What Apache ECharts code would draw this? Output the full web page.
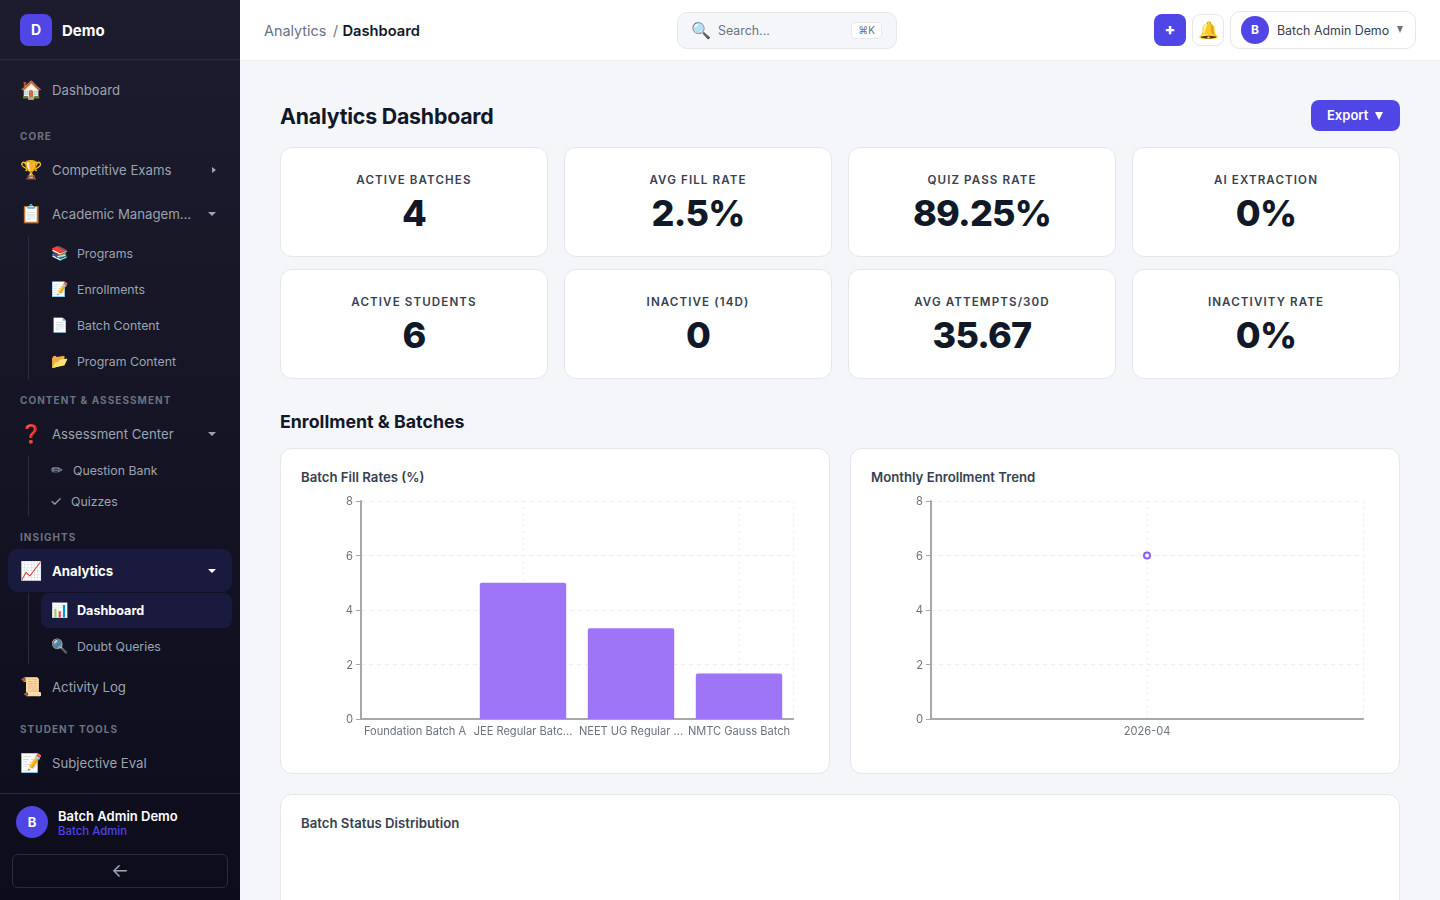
<!DOCTYPE html>
<html>
<head>
<meta charset="utf-8">
<title>Analytics Dashboard</title>
<script src="https://cdn.jsdelivr.net/npm/echarts@6/dist/echarts.min.js"></script>
<style>
* { box-sizing: border-box; }
html, body { margin: 0; height: 100%; overflow: hidden; }
body { width: 1440px; height: 900px; position: relative; background: #f5f6fa; font-family: Inter, "Noto Sans", sans-serif; color: #111827; }
.abs { position: absolute; white-space: nowrap; }
#side { position: absolute; left: 0; top: 0; width: 240px; height: 900px; background: linear-gradient(180deg, #1c1c2e 0%, #0c0c1b 100%); }
.line { position: absolute; background: #2b2b3d; }
.item { position: absolute; left: 52px; font-size: 13.2px; line-height: 18px; color: #9ca3af; white-space: nowrap; transform: translateY(-50%); }
.sub { font-size: 12.3px; left: 77px; margin-top: 1px; }
.ico { position: absolute; left: 20px; width: 22px; text-align: center; font-size: 18px; line-height: 22px; transform: translateY(-50%); }
.ico.s { left: 50px; width: 18px; font-size: 14px; }
.sec { position: absolute; left: 20px; font-size: 10px; font-weight: 700; letter-spacing: 1.05px; color: #6b7280; transform: translateY(-50%); white-space: nowrap; }
.caret { position: absolute; width: 0; height: 0; border-left: 4px solid transparent; border-right: 4px solid transparent; border-top: 4px solid #9ca3af; left: 208px; transform: translateY(-50%); }
.pill { position: absolute; background: #1a1a3e; border-radius: 10px; }
#top { position: absolute; left: 240px; top: 0; width: 1200px; height: 61px; background: #fff; border-bottom: 1px solid #eceef3; }
.card { position: absolute; background: #fff; border: 1px solid #e5e7eb; border-radius: 12px; }
.kpi { text-align: center; width: 268px; height: 110px; }
.kpi .lb { position: absolute; left: 0; right: 0; top: 25px; font-size: 11.6px; line-height: 14px; font-weight: 600; letter-spacing: 1.1px; color: #374151; }
.kpi .vl { position: absolute; left: 0; right: 0; top: 41px; font-size: 36px; line-height: 48px; font-weight: 800; letter-spacing: -0.8px; color: #111827; }
.ct { position: absolute; left: 20px; top: 20px; font-size: 13.2px; line-height: 16px; font-weight: 600; color: #374151; }
.chart { position: absolute; width: 508px; height: 270px; }
</style>
</head>
<body>
<div id="side">
  <div class="abs" style="left:20px;top:14px;width:32px;height:32px;border-radius:8px;background:#4f46e5;color:#fff;font-weight:700;font-size:14px;line-height:32px;text-align:center">D</div>
  <div class="abs" style="left:62px;top:22px;font-size:15px;line-height:18px;font-weight:700;color:#fff">Demo</div>
  <div class="line" style="left:0;top:59px;width:240px;height:1px"></div>

  <div class="ico" style="top:90px">🏠</div><div class="item" style="top:90px">Dashboard</div>
  <div class="sec" style="top:136px">CORE</div>
  <div class="ico" style="top:170px">🏆</div><div class="item" style="top:170px">Competitive Exams</div>
  <div class="abs" style="left:212px;top:167px;width:0;height:0;border-top:3.5px solid transparent;border-bottom:3.5px solid transparent;border-left:4px solid #9ca3af"></div>
  <div class="ico" style="top:214px">📋</div><div class="item" style="top:214px">Academic Managem…</div>
  <div class="caret" style="top:214px"></div>
  <div class="line" style="left:28px;top:236px;width:1px;height:144px"></div>
  <div class="ico s" style="top:253px">📚</div><div class="item sub" style="top:253px">Programs</div>
  <div class="ico s" style="top:289px">📝</div><div class="item sub" style="top:289px">Enrollments</div>
  <div class="ico s" style="top:325px">📄</div><div class="item sub" style="top:325px">Batch Content</div>
  <div class="ico s" style="top:361px">📂</div><div class="item sub" style="top:361px">Program Content</div>

  <div class="sec" style="top:400px">CONTENT &amp; ASSESSMENT</div>
  <div class="ico" style="top:434px;color:#e00">❓</div><div class="item" style="top:434px">Assessment Center</div>
  <div class="caret" style="top:434px"></div>
  <div class="line" style="left:28px;top:456px;width:1px;height:60px"></div>
  <div class="ico s" style="top:470px;left:48px;color:#9ca3af">✏</div><div class="item sub" style="top:470px;left:73px">Question Bank</div>
  <div class="ico s" style="top:501px;left:47px;color:#9ca3af">✓</div><div class="item sub" style="top:501px;left:71px">Quizzes</div>

  <div class="sec" style="top:537px">INSIGHTS</div>
  <div class="pill" style="left:8px;top:549px;width:224px;height:43px"></div>
  <div class="ico" style="top:571px">📈</div><div class="item" style="top:571px;color:#fff;font-weight:700">Analytics</div>
  <div class="caret" style="top:571px;border-top-color:#fff"></div>
  <div class="line" style="left:28px;top:593px;width:1px;height:71px"></div>
  <div class="pill" style="left:41px;top:593px;width:191px;height:35px;border-radius:8px"></div>
  <div class="ico s" style="top:610px">📊</div><div class="item sub" style="top:610px;color:#fff;font-weight:700;font-size:12.6px">Dashboard</div>
  <div class="ico s" style="top:646px">🔍</div><div class="item sub" style="top:646px">Doubt Queries</div>
  <div class="ico" style="top:687px">📜</div><div class="item" style="top:687px">Activity Log</div>
  <div class="sec" style="top:729px">STUDENT TOOLS</div>
  <div class="ico" style="top:763px">📝</div><div class="item" style="top:763px">Subjective Eval</div>

  <div class="line" style="left:0;top:793px;width:240px;height:1px"></div>
  <div class="abs" style="left:16px;top:806px;width:32px;height:32px;border-radius:50%;background:#4f46e5;color:#fff;font-weight:700;font-size:13px;line-height:32px;text-align:center">B</div>
  <div class="abs" style="left:58px;top:808px;font-size:13px;line-height:16px;font-weight:600;color:#fff">Batch Admin Demo</div>
  <div class="abs" style="left:58px;top:824px;font-size:11.4px;line-height:14px;font-weight:500;color:#4f46e5">Batch Admin</div>
  <div class="abs" style="left:12px;top:854px;width:216px;height:34px;border:1px solid #2b2b3d;border-radius:6px;color:#9ca3af;font-size:19px;line-height:32px;text-align:center">←</div>
</div>

<div id="top">
  <div class="abs" style="left:24px;top:22px;font-size:14.4px;line-height:18px;color:#6b7280">Analytics</div>
  <div class="abs" style="left:93px;top:22px;font-size:14px;line-height:18px;color:#6b7280">/</div>
  <div class="abs" style="left:102.5px;top:22px;font-size:14.7px;line-height:18px;font-weight:600;color:#111827">Dashboard</div>
  <div class="abs" style="left:437px;top:12px;width:220px;height:37px;background:#f5f6fa;border:1px solid #e5e7eb;border-radius:10px"></div>
  <div class="abs" style="left:451px;top:20px;font-size:16px;line-height:20px">🔍</div>
  <div class="abs" style="left:478px;top:23px;font-size:12.4px;line-height:16px;color:#6b7280">Search...</div>
  <div class="abs" style="left:611px;top:22px;width:31px;height:17px;background:#fff;border:1px solid #e5e7eb;border-radius:4px;font-size:10px;line-height:15px;text-align:center;color:#6b7280">⌘K</div>
  <div class="abs" style="left:914px;top:14px;width:32px;height:32px;background:#4f46e5;border-radius:8px;color:#fff;font-size:16px;font-weight:800;line-height:31px;text-align:center">+</div>
  <div class="abs" style="left:952px;top:14px;width:32px;height:32px;background:#fff;border:1px solid #e5e7eb;border-radius:8px;font-size:17px;line-height:30px;text-align:center">🔔</div>
  <div class="abs" style="left:990px;top:11px;width:186px;height:38px;background:#fff;border:1px solid #e5e7eb;border-radius:10px"></div>
  <div class="abs" style="left:1001px;top:16px;width:28px;height:28px;border-radius:50%;background:#4f46e5;color:#fff;font-weight:700;font-size:12px;line-height:28px;text-align:center">B</div>
  <div class="abs" style="left:1037px;top:23px;font-size:12.4px;line-height:16px;color:#374151">Batch Admin Demo</div>
  <div class="abs" style="left:1157px;top:26px;width:0;height:0;border-left:3.5px solid transparent;border-right:3.5px solid transparent;border-top:7px solid #6b7280"></div>
</div>

<div class="abs" style="left:280px;top:102px;font-size:21.3px;line-height:28px;font-weight:700;color:#111827;letter-spacing:-0.2px">Analytics Dashboard</div>
<div class="abs" style="left:1311px;top:100px;width:89px;height:31px;background:#4f46e5;border-radius:8px;color:#fff;font-size:13px;font-weight:600;line-height:31px;padding-left:16px">Export</div>
<div class="abs" style="left:1375px;top:112px;width:0;height:0;border-left:4px solid transparent;border-right:4px solid transparent;border-top:8px solid #fff"></div>

<div id="kpis"></div>

<div class="abs" style="left:280px;top:411px;font-size:17.8px;line-height:22px;font-weight:700;color:#111827">Enrollment &amp; Batches</div>

<div class="card" style="left:280px;top:448px;width:550px;height:326px"><div class="ct">Batch Fill Rates (%)</div></div>
<div class="card" style="left:850px;top:448px;width:550px;height:326px"><div class="ct">Monthly Enrollment Trend</div></div>
<div id="fillChart" class="chart" style="left:301px;top:490px"></div>
<div id="trendChart" class="chart" style="left:871px;top:490px"></div>

<div class="card" style="left:280px;top:794px;width:1120px;height:140px"><div class="ct">Batch Status Distribution</div></div>

<script>
var kpiLabels = ["ACTIVE BATCHES", "AVG FILL RATE", "QUIZ PASS RATE", "AI EXTRACTION",
    "ACTIVE STUDENTS", "INACTIVE (14D)", "AVG ATTEMPTS/30D", "INACTIVITY RATE"];
var kpiValues = ["4", "2.5%", "89.25%", "0%", "6", "0", "35.67", "0%"];

var batchNames = ["Foundation Batch A", "JEE Regular Batc...", "NEET UG Regular ...", "NMTC Gauss Batch"];
var fillRates = [0, 5, 3.33, 1.67];

var trendMonths = ["2026-04"];
var trendCounts = [6];

var kpiBox = document.getElementById("kpis");
kpiLabels.forEach(function (label, i) {
    var card = document.createElement("div");
    card.className = "card kpi";
    card.style.left = (280 + (i % 4) * 284) + "px";
    card.style.top = (i < 4 ? 147 : 269) + "px";
    card.innerHTML = '<div class="lb">' + label + '</div><div class="vl">' + kpiValues[i] + '</div>';
    kpiBox.appendChild(card);
});

function baseOptions(cats) {
    return {
        animation: false,
        textStyle: { fontFamily: "Inter" },
        grid: { left: 60, right: 16, top: 11, height: 218 },
        xAxis: {
            type: "category",
            data: cats,
            axisLine: { lineStyle: { color: "#a8a8a8", width: 2 } },
            axisTick: { alignWithLabel: true, length: 5, lineStyle: { color: "#a8a8a8", width: 1 } },
            axisLabel: { color: "#6b7280", fontSize: 11.1, margin: 7, interval: 0 },
            splitLine: {
                show: true,
                alignWithLabel: true,
                // every second label, plus the only one on a single month
                interval: function (i) { return cats.length === 1 || i % 2 === 1; },
                lineStyle: { color: "#eeeef1", type: [2, 4] }
            }
        },
        yAxis: [{
            type: "value",
            min: 0,
            max: 8,
            interval: 2,
            axisLine: { show: true, lineStyle: { color: "#a8a8a8", width: 2 } },
            axisTick: { show: true, length: 5, lineStyle: { color: "#a8a8a8", width: 1 } },
            axisLabel: { color: "#6b7280", fontSize: 11.2, margin: 8, verticalAlign: "top", lineHeight: 2 },
            splitLine: { lineStyle: { color: "#eeeef1", type: [4, 4] } }
        }, {
            // dotted edge on the right of the plot
            type: "value",
            position: "right",
            min: 0,
            max: 8,
            interval: 2,
            axisLine: { show: true, lineStyle: { color: "#eeeef1", type: [2, 4] } },
            axisTick: { show: false },
            axisLabel: { show: false },
            splitLine: { show: false }
        }]
    };
}

var fillChart = echarts.init(document.getElementById("fillChart"));
var fillOpt = baseOptions(batchNames);
fillOpt.series = [{
    type: "bar",
    data: fillRates,
    barWidth: "80%",
    itemStyle: { color: "#9f75f8", borderRadius: [2, 2, 0, 0] }
}];
fillChart.setOption(fillOpt);

var trendChart = echarts.init(document.getElementById("trendChart"));
var trendOpt = baseOptions(trendMonths);
trendOpt.series = [{
    type: "line",
    data: trendCounts,
    symbol: "emptyCircle",
    symbolSize: 6,
    showSymbol: true,
    lineStyle: { color: "#8b5cf6", width: 2 },
    itemStyle: { color: "#8b5cf6", borderWidth: 2 }
}];
trendChart.setOption(trendOpt);
</script>
</body>
</html>
